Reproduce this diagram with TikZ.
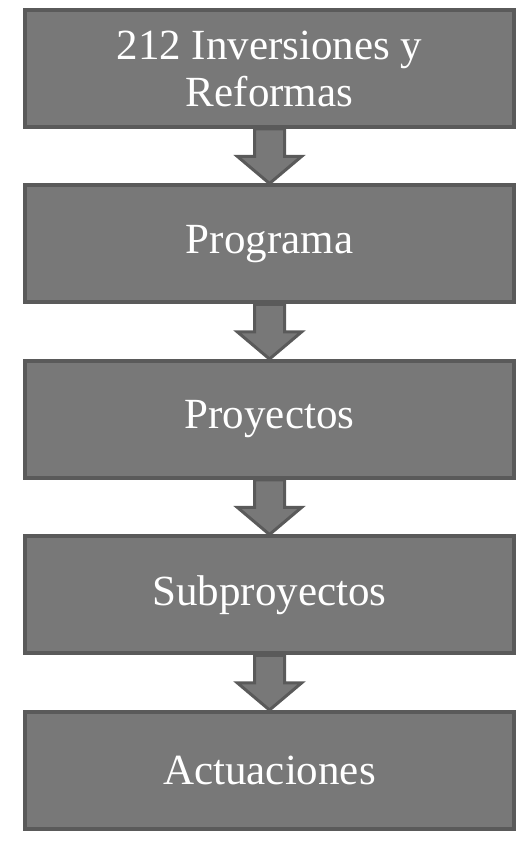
\documentclass[tikz,border=0pt]{standalone}
\usepackage{fontspec}
\setmainfont{Liberation Serif}
\usetikzlibrary{calc}
\definecolor{boxfill}{HTML}{787878}
\definecolor{boxline}{HTML}{5A5A5A}
\tikzset{
  levelbox/.style={rectangle, draw=boxline, line width=4pt, fill=boxfill,
    minimum width=489pt, minimum height=117pt, text=white, align=center,
    font=\fontsize{43}{47}\selectfont},
  downarrow/.style={draw=boxline, line width=3pt, fill=boxfill, line join=miter}
}
\newcommand{\blockarrow}[2]{
  \draw[downarrow] ($(#1.south)+(-15,0)$) -- ($(#2.north)+(-15,27)$) -- ($(#2.north)+(-32,27)$)
    -- (#2.north) -- ($(#2.north)+(32,27)$) -- ($(#2.north)+(15,27)$) -- ($(#1.south)+(15,0)$) -- cycle;
}
\begin{document}
\begin{tikzpicture}[x=1pt,y=1pt]
\useasboundingbox (0,0) rectangle (518,843);

\node (inv) at (269.5,774.5) [levelbox]{212 Inversiones y\\Reformas};
\node (prog) at (269.5,599) [levelbox]{Programa};
\node (proy) at (269.5,423.5) [levelbox]{Proyectos};
\node (subp) at (269.5,248) [levelbox]{Subproyectos};
\node (act) at (269.5,72.5) [levelbox]{Actuaciones};

\blockarrow{inv}{prog}
\blockarrow{prog}{proy}
\blockarrow{proy}{subp}
\blockarrow{subp}{act}

\end{tikzpicture}
\end{document}
